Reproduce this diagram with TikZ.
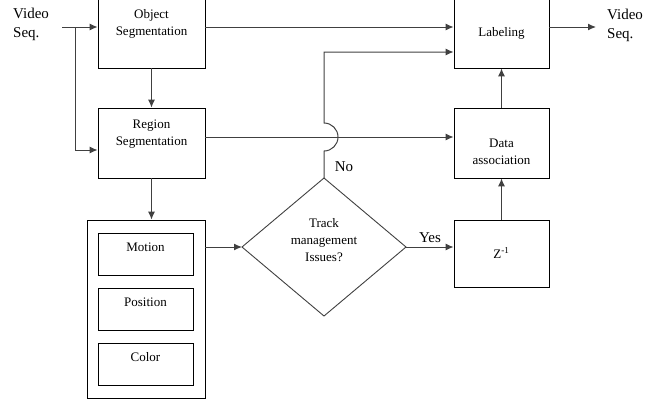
\documentclass[tikz,border=0pt]{standalone}
\usepackage{fontspec}
\setmainfont{Liberation Serif}
\usetikzlibrary{arrows.meta}
\begin{document}
\begin{tikzpicture}[x=1pt,y=-1pt,
  box/.style={draw=black,line width=0.9pt,minimum width=#1,inner sep=0pt},
  boxtxt/.style={font=\fontsize{13}{17}\selectfont,align=center,inner sep=0pt},
  lbl/.style={font=\fontsize{15}{19}\selectfont,inner sep=0pt},
  arr/.style={draw=black!75,line width=1pt,-{Latex[length=8pt,width=7pt]}},
  ln/.style={draw=black!75,line width=1pt}]
\useasboundingbox (0,0) rectangle (645,405);
% boxes
\node[box=107pt,minimum height=71pt] (obj) at (151.5,32.5) {};
\node[box=107pt,minimum height=70pt] (reg) at (151.5,143) {};
\node[box=95pt,minimum height=71pt] (lab) at (501.5,32.5) {};
\node[box=95pt,minimum height=70pt] (da) at (501.5,143) {};
\node[box=95pt,minimum height=67pt] (zb) at (501.5,253.5) {};
\node[box=118pt,minimum height=178pt] (outer) at (146,309) {};
\node[box=95pt,minimum height=42pt] (mot) at (145.5,254) {};
\node[box=95pt,minimum height=42pt] (pos) at (145.5,309) {};
\node[box=95pt,minimum height=42pt] (col) at (145.5,364) {};
% texts
\node[boxtxt] (objt) at (151.5,24) {Object\\Segmentation};
\node[boxtxt] (regt) at (151.5,134) {Region\\Segmentation};
\node[boxtxt] (labt) at (501.5,33) {Labeling};
\node[boxtxt] (dat) at (501.5,152) {Data\\association};
\node[boxtxt] (zt) at (501.5,253) {Z\textsuperscript{-1}};
\node[boxtxt] (mott) at (145.5,247) {Motion};
\node[boxtxt] (post) at (145.5,302) {Position};
\node[boxtxt] (colt) at (145.5,357) {Color};
\node[boxtxt] (dmt) at (324,240) {Track\\management\\Issues?};
\node[lbl,align=left,anchor=west] (vin) at (13,24) {Video\\Seq.};
\node[lbl,align=left,anchor=west] (vout) at (607,25) {Video\\Seq.};
\node[lbl] (yes) at (430,238) {Yes};
\node[lbl] (no) at (344,167) {No};
% diamond
\coordinate (dl) at (242,247);
\coordinate (dr) at (406,247);
\coordinate (dt) at (324,178);
\coordinate (db) at (324,316);
\draw[draw=black!75,line width=0.9pt] (dl) -- (dt) -- (dr) -- (db) -- cycle;
% connectors
\coordinate (in) at (62,27);
\coordinate (split) at (75,27);
\coordinate (out) at (596,27);
\draw[arr] (in) -- (obj.west |- in);
\draw[arr] (split) |- (reg.west |- 0,150);
\draw[arr] (obj.south) -- (reg.north);
\draw[arr] (reg.south) -- (outer.north -| reg.south);
\draw[arr] (obj.east |- in) -- (lab.west |- in);
\draw[arr] (reg.east |- 0,137) -- (da.west |- 0,137);
\draw[arr] (lab.east |- in) -- (out);
\draw[arr] (outer.east |- dl) -- (dl);
\draw[arr] (dr) -- (zb.west |- dr);
\draw[arr] (zb.north) -- (da.south);
\draw[arr] (da.north) -- (lab.south);
\draw[arr] (dt) -- (324,151) arc[start angle=-90,end angle=90,radius=14pt] -- (324,52) -- (lab.west |- 0,52);
\end{tikzpicture}
\end{document}
